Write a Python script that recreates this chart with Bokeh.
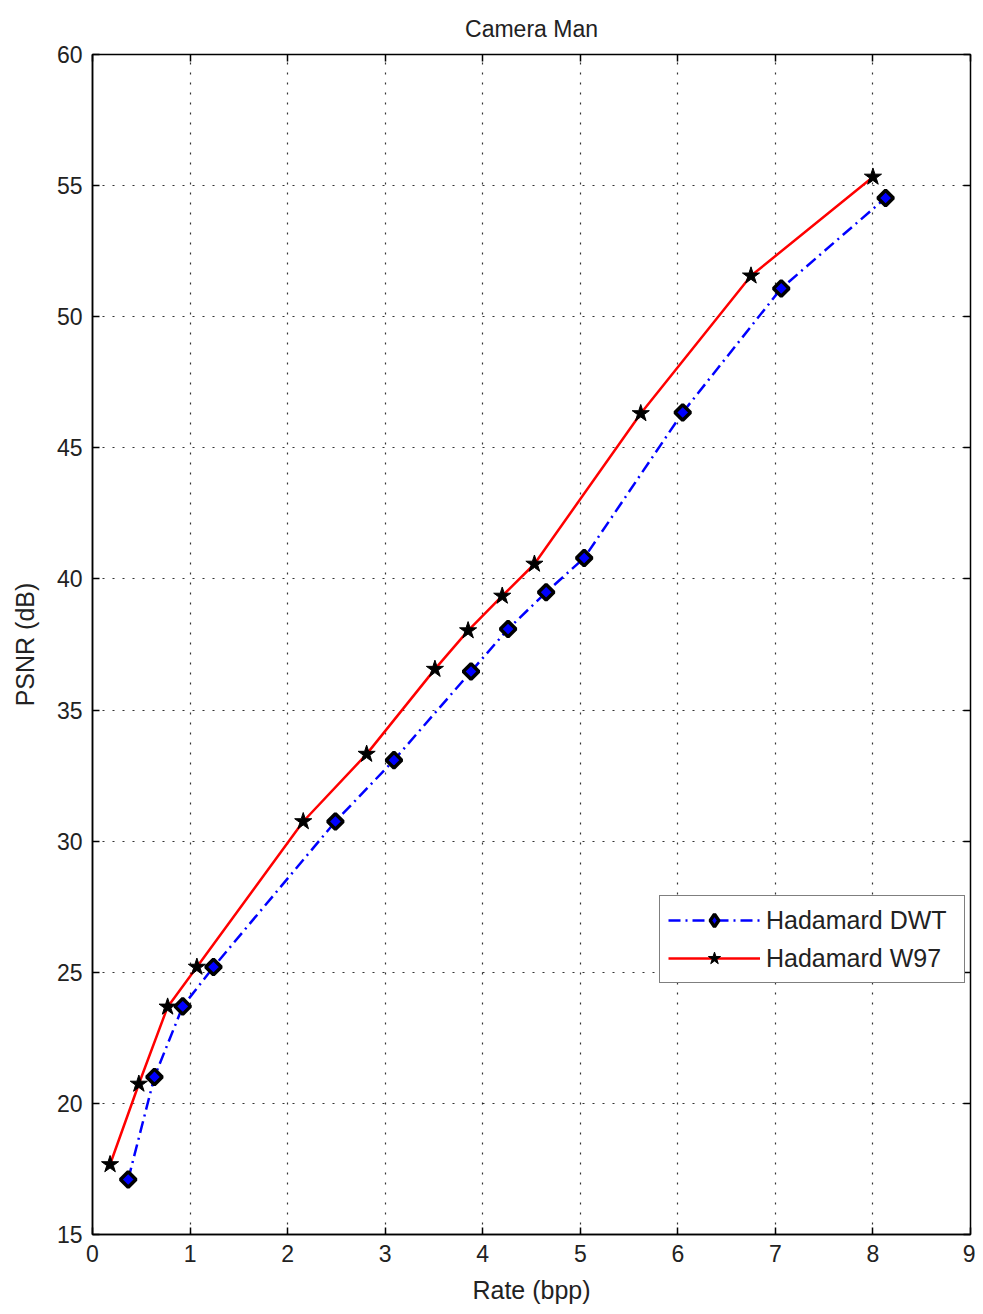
import math
from bokeh.plotting import figure
from bokeh.models import Range1d, FixedTicker, Legend, LegendItem, LinearAxis
from bokeh.embed import file_html
from bokeh.resources import INLINE

# Data
dwt_rate = [0.366, 0.635, 0.925, 1.24, 2.49, 3.09, 3.88, 4.26, 4.65, 5.04, 6.05, 7.06, 8.13]
dwt_psnr = [17.10, 21.01, 23.70, 25.20, 30.75, 33.09, 36.47, 38.09, 39.49, 40.80, 46.35, 51.08, 54.53]
w97_rate = [0.18, 0.475, 0.77, 1.07, 2.16, 2.81, 3.51, 3.85, 4.20, 4.53, 5.62, 6.75, 8.00]
w97_psnr = [17.67, 20.74, 23.68, 25.20, 30.75, 33.32, 36.56, 38.03, 39.35, 40.57, 46.31, 51.56, 55.33]
x_ticks = [0, 1, 2, 3, 4, 5, 6, 7, 8, 9]
y_ticks = [15, 20, 25, 30, 35, 40, 45, 50, 55, 60]

FONT = "Liberation Sans"
TXT = "#222222"

p = figure(width=975, height=1306, output_backend="svg", toolbar_location=None,
           x_range=Range1d(0, 9), y_range=Range1d(15, 60),
           title="Camera Man", min_border_left=92, min_border_top=54,
           min_border_right=5, min_border_bottom=71)
p.title.align = "center"
p.title.text_font = FONT
p.title.text_font_size = "23px"
p.title.text_font_style = "normal"
p.title.text_color = TXT
p.title.standoff = 25

p.outline_line_color = "black"
p.outline_line_width = 1.5
p.background_fill_color = "white"
p.border_fill_color = "white"

for ax, ticks, label in ((p.xaxis[0], x_ticks, "Rate (bpp)"), (p.yaxis[0], y_ticks, "PSNR (dB)")):
    ax.ticker = FixedTicker(ticks=ticks)
    ax.axis_label = label
    ax.axis_label_text_font = FONT
    ax.axis_label_text_font_size = "25px"
    ax.axis_label_text_font_style = "normal"
    ax.major_label_text_font = FONT
    ax.major_label_text_font_size = "23px"
    ax.major_label_text_color = TXT
    ax.axis_label_text_color = TXT
    ax.major_tick_in = 7
    ax.major_tick_out = 0
    ax.minor_tick_in = 0
    ax.minor_tick_out = 0
    ax.axis_line_color = "black"
    ax.axis_line_width = 1.5
    ax.major_tick_line_width = 1.5
    ax.major_label_standoff = 10
p.yaxis[0].axis_label_standoff = 15
p.xaxis[0].axis_label_standoff = 11

# mirrored ticks on right and top (no labels)
ra = LinearAxis(ticker=FixedTicker(ticks=y_ticks), major_label_overrides={t: "" for t in y_ticks},
                major_tick_in=7, major_tick_out=0, minor_tick_in=0, minor_tick_out=0,
                axis_line_color="black", major_tick_line_width=1.5, major_label_standoff=0)
ta = LinearAxis(ticker=FixedTicker(ticks=x_ticks), major_label_overrides={t: "" for t in x_ticks},
                major_tick_in=7, major_tick_out=0, minor_tick_in=0, minor_tick_out=0,
                axis_line_color="black", major_tick_line_width=1.5, major_label_standoff=0)
p.add_layout(ra, "right")
p.add_layout(ta, "above")

for g in (p.xgrid[0], p.ygrid[0]):
    g.grid_line_color = "black"
    g.grid_line_dash = "2 8"
    g.grid_line_width = 1.2
    g.grid_line_alpha = 0.8
p.xgrid[0].ticker = FixedTicker(ticks=x_ticks)
p.ygrid[0].ticker = FixedTicker(ticks=y_ticks)

l1 = p.line(dwt_rate, dwt_psnr, line_color="blue", line_width=2.5, line_dash="12 5 2 5")
m1 = p.scatter(dwt_rate, dwt_psnr, marker="square", angle=math.pi / 4, size=11, fill_color="blue",
               line_color="black", line_width=3.5)
# diamond used only for the legend key (legend keys ignore marker angle)
m1_key = p.scatter(dwt_rate, dwt_psnr, marker="diamond", size=16, fill_color="blue",
                   line_color="black", line_width=3.5, visible=False)
l2 = p.line(w97_rate, w97_psnr, line_color="red", line_width=2.5)
m2 = p.scatter(w97_rate, w97_psnr, marker="star", size=18, fill_color="black",
               line_color="black", line_width=1)

legend = Legend(items=[LegendItem(label="Hadamard DWT", renderers=[l1, m1_key]),
                       LegendItem(label="Hadamard W97", renderers=[l2, m2])],
                location=(567, 251), label_text_font=FONT, label_text_font_size="25px",
                label_text_color=TXT,
                border_line_color="black", border_line_width=1.5,
                glyph_width=92, glyph_height=32, spacing=6, padding=8, margin=0,
                label_standoff=6, label_width=190, label_height=32, background_fill_alpha=1,
                inactive_fill_alpha=0, click_policy="none")
p.add_layout(legend)

open("out.html", "w").write(file_html(p, INLINE))
